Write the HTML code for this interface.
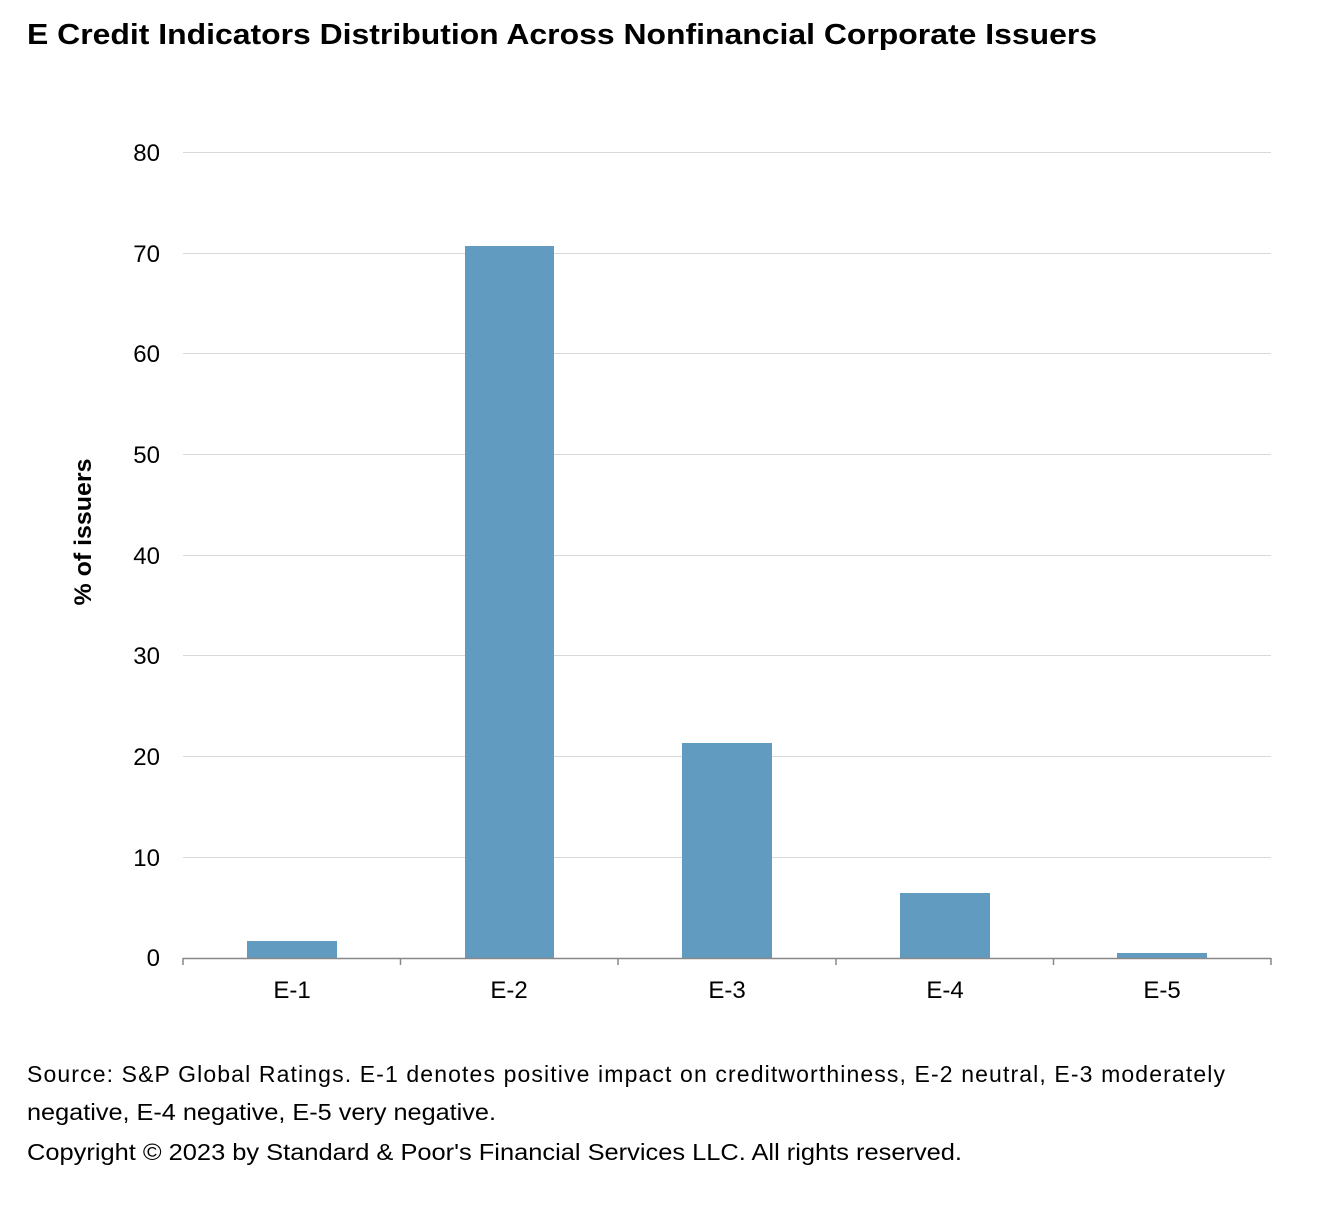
<!DOCTYPE html>
<html><head><meta charset="utf-8"><style>
body{margin:0;background:#fff;width:1328px;height:1202px;overflow:hidden;font-family:"Liberation Sans",Arial,sans-serif;}
</style></head><body>
<svg width="1328" height="1202" xmlns="http://www.w3.org/2000/svg" font-family="Liberation Sans, Arial, sans-serif">
<rect width="1328" height="1202" fill="#fff"/>
<text x="27" y="44" font-size="29" font-weight="bold" fill="#000" textLength="1070" lengthAdjust="spacingAndGlyphs">E Credit Indicators Distribution Across Nonfinancial Corporate Issuers</text>
<g stroke="#d9d9d9" stroke-width="1">
<line x1="183" x2="1271" y1="152.5" y2="152.5"/>
<line x1="183" x2="1271" y1="253.5" y2="253.5"/>
<line x1="183" x2="1271" y1="353.5" y2="353.5"/>
<line x1="183" x2="1271" y1="454.5" y2="454.5"/>
<line x1="183" x2="1271" y1="555.5" y2="555.5"/>
<line x1="183" x2="1271" y1="655.5" y2="655.5"/>
<line x1="183" x2="1271" y1="756.5" y2="756.5"/>
<line x1="183" x2="1271" y1="857.5" y2="857.5"/>
</g>
<g fill="#629bc0">
<rect x="247" y="941" width="90" height="17"/>
<rect x="465" y="246" width="89" height="712"/>
<rect x="682" y="743" width="90" height="215"/>
<rect x="900" y="893" width="90" height="65"/>
<rect x="1117" y="953" width="90" height="5"/>
</g>
<g stroke="#888" stroke-width="1.5">
<line x1="183" x2="1271" y1="958.5" y2="958.5"/>
<line x1="183" x2="183" y1="958" y2="965"/>
<line x1="400.5" x2="400.5" y1="958" y2="965"/>
<line x1="618" x2="618" y1="958" y2="965"/>
<line x1="836" x2="836" y1="958" y2="965"/>
<line x1="1053.5" x2="1053.5" y1="958" y2="965"/>
<line x1="1271" x2="1271" y1="958" y2="965"/>
</g>
<g font-size="24" fill="#000" text-anchor="end">
<text x="160" y="161">80</text><text x="160" y="262">70</text><text x="160" y="362">60</text>
<text x="160" y="463">50</text><text x="160" y="564">40</text><text x="160" y="664">30</text>
<text x="160" y="765">20</text><text x="160" y="866">10</text><text x="160" y="966">0</text>
</g>
<g font-size="24" fill="#000" text-anchor="middle">
<text x="292" y="998">E-1</text><text x="509" y="998">E-2</text><text x="727" y="998">E-3</text>
<text x="945" y="998">E-4</text><text x="1162" y="998">E-5</text>
</g>
<text transform="translate(91,532) rotate(-90)" font-size="24" font-weight="bold" text-anchor="middle" textLength="147" lengthAdjust="spacingAndGlyphs">% of issuers</text>
<g font-size="23" fill="#000">
<text x="27" y="1082" textLength="1198" lengthAdjust="spacing">Source: S&amp;P Global Ratings. E-1 denotes positive impact on creditworthiness, E-2 neutral, E-3 moderately</text>
<text x="27" y="1120" textLength="469" lengthAdjust="spacingAndGlyphs">negative, E-4 negative, E-5 very negative.</text>
<text x="27" y="1160" textLength="935" lengthAdjust="spacingAndGlyphs">Copyright © 2023 by Standard &amp; Poor's Financial Services LLC. All rights reserved.</text>
</g>
</svg>
</body></html>
